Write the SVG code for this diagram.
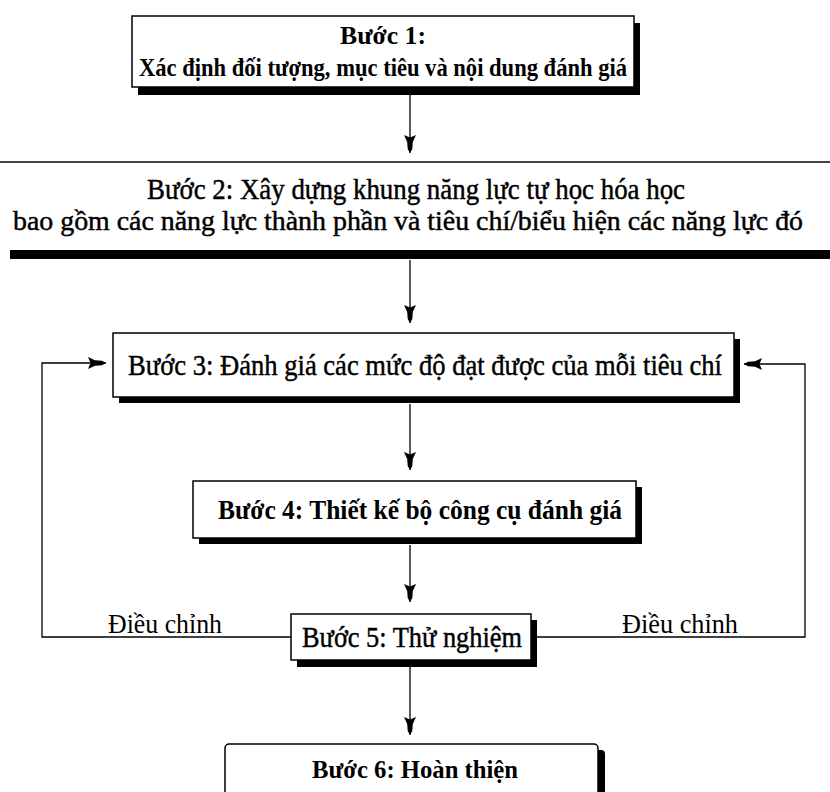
<svg xmlns="http://www.w3.org/2000/svg" width="830" height="792" viewBox="0 0 830 792">
<style>
.box{fill:#fff;stroke:#000;stroke-width:1.5}
.sh{fill:#000}
.t{font-family:"Liberation Serif","Times New Roman",serif;fill:#000;text-anchor:middle}
.b{font-weight:bold}
.r{stroke:#000;stroke-width:0.45}
.c{fill:none;stroke:#000;stroke-width:1.3}
</style>
<defs>
<marker id="ah" viewBox="-19 -7 20 14" refX="0" refY="0" markerWidth="20" markerHeight="14" markerUnits="userSpaceOnUse" orient="auto">
<path d="M0,0 L-4,-2.3 L-11,-2.8 L-18,-6 L-15.5,0 L-18,6 L-11,2.8 L-4,2.3 Z" fill="#000"/>
</marker>
</defs>
<rect width="830" height="792" fill="#fff"/>

<g id="connectors">
<line class="c" x1="410" y1="95" x2="410" y2="153" marker-end="url(#ah)"/>
<line class="c" x1="410" y1="260" x2="410" y2="323" marker-end="url(#ah)"/>
<line class="c" x1="410" y1="404" x2="410" y2="470" marker-end="url(#ah)"/>
<line class="c" x1="410" y1="545" x2="410" y2="602" marker-end="url(#ah)"/>
<line class="c" x1="410" y1="667" x2="410" y2="735" marker-end="url(#ah)"/>
<polyline class="c" points="291,637 42,637 42,363 106,363" marker-end="url(#ah)"/>
<polyline class="c" points="531,637 805,637 805,364 744,364" marker-end="url(#ah)"/>
</g>

<g id="step1">
<rect class="sh" x="138" y="23" width="502" height="72"/>
<rect class="box" x="132" y="16" width="502" height="71"/>
<text class="t b" x="383" y="44" font-size="25" textLength="86" lengthAdjust="spacingAndGlyphs">Bước 1:</text>
<text class="t b" x="383" y="76" font-size="25" textLength="488" lengthAdjust="spacingAndGlyphs">Xác định đối tượng, mục tiêu và nội dung đánh giá</text>
</g>

<g id="step2">
<line x1="0" y1="162" x2="830" y2="162" stroke="#444" stroke-width="2"/>
<text class="t r" x="416" y="199" font-size="29" textLength="538" lengthAdjust="spacingAndGlyphs">Bước 2: Xây dựng khung năng lực tự học hóa học</text>
<text class="t r" x="408" y="230" font-size="27" textLength="790" lengthAdjust="spacingAndGlyphs">bao gồm các năng lực thành phần và tiêu chí/biểu hiện các năng lực đó</text>
<rect x="10" y="250" width="820" height="9" fill="#000"/>
</g>

<g id="step3">
<rect class="sh" x="119" y="339" width="621" height="64"/>
<rect class="box" x="113" y="333" width="621" height="64"/>
<text class="t r" x="425" y="375" font-size="30" textLength="594" lengthAdjust="spacingAndGlyphs">Bước 3: Đánh giá các mức độ đạt được của mỗi tiêu chí</text>
</g>

<g id="step4">
<rect class="sh" x="199" y="487" width="443" height="57"/>
<rect class="box" x="193" y="481" width="443" height="57"/>
<text class="t b" x="420" y="519" font-size="28" textLength="404" lengthAdjust="spacingAndGlyphs">Bước 4: Thiết kế bộ công cụ đánh giá</text>
</g>

<g id="step5">
<rect class="sh" x="297" y="620" width="240" height="47"/>
<rect class="box" x="291" y="614" width="240" height="46"/>
<text class="t r" x="412" y="647" font-size="30" textLength="220" lengthAdjust="spacingAndGlyphs">Bước 5: Thử nghiệm</text>
</g>

<g id="step6">
<rect class="sh" x="231" y="750" width="374" height="60" rx="4"/>
<rect class="box" x="225" y="744" width="373" height="60" rx="4"/>
<text class="t b" x="415" y="778" font-size="26" textLength="206" lengthAdjust="spacingAndGlyphs">Bước 6: Hoàn thiện</text>
</g>

<g id="labels">
<text class="t" x="165" y="633" font-size="27" textLength="114" lengthAdjust="spacingAndGlyphs">Điều chỉnh</text>
<text class="t" x="680" y="633" font-size="27" textLength="116" lengthAdjust="spacingAndGlyphs">Điều chỉnh</text>
</g>
</svg>
